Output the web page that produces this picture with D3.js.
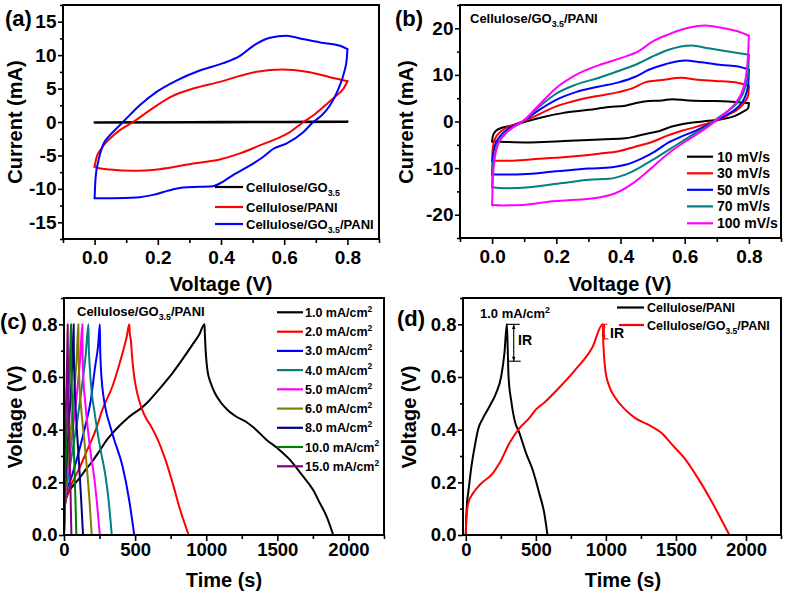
<!DOCTYPE html>
<html><head><meta charset="utf-8">
<script src="https://cdnjs.cloudflare.com/ajax/libs/d3/7.8.5/d3.min.js"></script>
<style>
body{margin:0;background:#fff}
svg{display:block}
text{font-family:"Liberation Sans",Arial,sans-serif;font-weight:bold;fill:#000}
</style>
</head><body>
<svg id="c" width="789" height="596"></svg>
<script>
// ---------------- DATA ----------------
// Panel (a): CV at fixed scan rate, [Voltage V, Current mA]
const cvA_GO = [[0,-0.06],[0.2,-0.02],[0.4,0.02],[0.6,0.05],[0.8,0.07],[0.799,0.0],[0.6,-0.04],[0.4,-0.06],[0.2,-0.08],[0,-0.06]];
const cvA_PANI = [[0,-6.7],[0.005,-5.5],[0.021,-4.0],[0.048,-2.5],[0.079,-1.25],[0.122,0],[0.174,1.74],[0.238,3.7],[0.312,5.0],[0.396,6.0],[0.46,6.9],[0.513,7.5],[0.597,7.85],[0.671,7.5],[0.745,6.7],[0.8,6.1],
  [0.788,5.0],[0.766,4.0],[0.735,2.7],[0.698,1.2],[0.661,0],[0.618,-1.5],[0.576,-2.5],[0.523,-3.5],[0.46,-4.7],[0.396,-5.6],[0.312,-6.2],[0.206,-7.05],[0.122,-7.3],[0.048,-7.1],[0.005,-6.8],[0,-6.7]];
const cvA_GOPANI = [[0,-11.4],[0.003,-8.4],[0.011,-6.0],[0.026,-3.5],[0.048,-2.0],[0.074,-0.75],[0.1,0.5],[0.143,2.5],[0.196,4.5],[0.259,6.2],[0.333,7.7],[0.407,8.8],[0.46,9.9],[0.502,11.4],[0.555,12.6],[0.608,12.9],[0.65,12.5],[0.714,11.9],[0.777,11.4],[0.8,10.9],
  [0.798,9.4],[0.79,7.5],[0.772,5.0],[0.745,2.5],[0.719,1.0],[0.692,0],[0.661,-1.5],[0.608,-3.2],[0.566,-4.0],[0.534,-5.2],[0.492,-6.5],[0.439,-7.9],[0.396,-9.2],[0.375,-9.6],[0.333,-9.7],[0.28,-9.8],[0.238,-10.2],[0.185,-10.9],[0.132,-11.3],[0.058,-11.4],[0,-11.4]];

// Panel (b): CV at different scan rates
const cvB_10 = [[0,-4.3],[0.002,-3.2],[0.012,-2.0],[0.033,-1.3],[0.064,-0.86],[0.105,0],[0.157,0.93],[0.219,1.8],[0.302,2.5],[0.364,3.1],[0.415,3.4],[0.457,4.1],[0.488,4.4],[0.529,4.5],[0.56,4.8],[0.612,4.5],[0.674,4.4],[0.736,4.3],[0.777,4.1],[0.8,3.9],
  [0.798,2.9],[0.782,2.1],[0.757,1.2],[0.715,0.5],[0.674,0.14],[0.633,-0.14],[0.591,-0.57],[0.56,-1.07],[0.519,-2.1],[0.488,-2.5],[0.446,-3.2],[0.415,-3.6],[0.353,-3.8],[0.281,-4.0],[0.198,-4.3],[0.116,-4.5],[0.043,-4.4],[0,-4.3]];
const cvB_30 = [[0,-8.4],[0.002,-5.7],[0.01,-3.6],[0.028,-2.1],[0.054,-1.07],[0.095,0],[0.147,1.57],[0.198,3.2],[0.25,4.3],[0.322,5.4],[0.394,6.3],[0.436,7.1],[0.477,8.4],[0.529,8.9],[0.591,9.4],[0.633,9.0],[0.695,8.7],[0.757,8.4],[0.8,7.6],
  [0.798,5.7],[0.788,4.3],[0.767,2.7],[0.736,1.43],[0.705,0.36],[0.674,-0.36],[0.633,-1.2],[0.591,-2.0],[0.54,-3.2],[0.498,-4.4],[0.446,-5.4],[0.394,-6.4],[0.333,-6.9],[0.25,-7.5],[0.147,-8.0],[0.064,-8.4],[0,-8.4]];
const cvB_50 = [[0,-11.4],[0.002,-7.9],[0.01,-5.0],[0.028,-2.9],[0.054,-1.4],[0.095,0],[0.147,2.5],[0.198,4.6],[0.261,6.3],[0.333,7.5],[0.394,8.4],[0.446,9.6],[0.488,11.1],[0.54,12.3],[0.601,13.1],[0.653,12.7],[0.715,12.1],[0.767,11.8],[0.8,11.1],
  [0.798,7.9],[0.786,5.0],[0.767,3.2],[0.736,1.64],[0.705,0.5],[0.674,-0.7],[0.633,-2.0],[0.591,-3.2],[0.55,-4.5],[0.508,-6.4],[0.467,-7.9],[0.415,-9.3],[0.374,-9.8],[0.302,-10.1],[0.198,-10.7],[0.095,-11.3],[0,-11.4]];
const cvB_70 = [[0,-14.1],[0.002,-10],[0.01,-6.4],[0.028,-3.6],[0.054,-1.8],[0.095,0],[0.147,3.2],[0.198,5.9],[0.261,7.9],[0.333,9.4],[0.405,11.1],[0.457,12.5],[0.498,13.9],[0.55,15.4],[0.622,16.3],[0.674,15.7],[0.736,15],[0.8,14.3],
  [0.798,10.7],[0.786,6.8],[0.767,4.3],[0.736,2.3],[0.705,0.86],[0.674,-0.86],[0.633,-2.5],[0.591,-4.3],[0.55,-6.1],[0.508,-7.9],[0.467,-9.6],[0.415,-11.4],[0.364,-12.3],[0.302,-12.5],[0.219,-13.2],[0.116,-14.1],[0.043,-14.3],[0,-14.1]];
const cvB_100 = [[0,-17.9],[0.002,-12.9],[0.007,-8.6],[0.018,-5.0],[0.038,-2.9],[0.064,-1.3],[0.095,0],[0.147,3.6],[0.198,7.1],[0.261,10],[0.333,12.1],[0.405,13.7],[0.457,15.1],[0.498,17.1],[0.55,18.7],[0.612,20.1],[0.664,20.6],[0.715,20.1],[0.767,19.3],[0.8,18.4],
  [0.798,15],[0.793,10.7],[0.782,7.1],[0.762,4.3],[0.731,2.1],[0.705,0.7],[0.674,-1.07],[0.643,-2.5],[0.602,-4.3],[0.55,-6.8],[0.498,-9.9],[0.446,-12.9],[0.384,-15.4],[0.333,-16.3],[0.261,-16.8],[0.188,-17.1],[0.095,-17.9],[0.033,-18],[0,-17.9]];

// Panel (c): GCD at different current densities, [Time s, Voltage V]
const gcdC_1 = [[0,0],[2,0.06],[5,0.1],[12,0.13],[30,0.16],[59,0.184],[100,0.21],[153,0.248],[200,0.28],[247,0.317],[300,0.36],[341,0.387],[390,0.415],[435,0.438],[480,0.458],[529,0.476],[590,0.505],[647,0.54],[710,0.58],[764,0.616],[830,0.665],[900,0.72],[950,0.76],[988,0.8],
  [990,0.77],[994,0.72],[1000,0.67],[1010,0.62],[1030,0.58],[1060,0.54],[1100,0.505],[1150,0.475],[1210,0.45],[1280,0.43],[1350,0.4],[1423,0.362],[1500,0.33],[1588,0.286],[1670,0.23],[1752,0.171],[1800,0.12],[1847,0.07],[1893,0]];
const gcdC_2 = [[0,0],[3,0.1],[12,0.13],[30,0.165],[59,0.2],[105,0.25],[153,0.31],[224,0.4],[270,0.476],[341,0.565],[411,0.69],[440,0.75],[459,0.8],
  [462,0.77],[470,0.74],[480,0.67],[494,0.6],[510,0.55],[529,0.51],[550,0.475],[576,0.444],[610,0.415],[659,0.362],[713,0.286],[764,0.197],[816,0.097],[877,0]];
const gcdC_3 = [[0,0],[3,0.1],[15,0.16],[47,0.21],[101,0.31],[148,0.41],[188,0.51],[219,0.64],[240,0.72],[252,0.8],
  [254,0.72],[259,0.64],[270,0.56],[282,0.51],[300,0.46],[318,0.425],[353,0.362],[412,0.26],[459,0.13],[494,0]];
const gcdC_4 = [[0,0],[4,0.1],[25,0.2],[60,0.32],[95,0.44],[125,0.56],[152,0.68],[172,0.8],
  [174,0.72],[181,0.64],[195,0.54],[212,0.476],[242,0.37],[262,0.31],[290,0.23],[312,0.14],[336,0]];
const gcdC_5 = [[0,0],[3,0.1],[18,0.2],[45,0.32],[70,0.44],[95,0.56],[115,0.68],[129,0.8],
  [130,0.72],[136,0.6],[150,0.5],[172,0.38],[190,0.3],[212,0.22],[232,0.12],[252,0]];
const gcdC_6 = [[0,0],[3,0.1],[15,0.2],[35,0.32],[55,0.44],[75,0.56],[90,0.68],[101,0.8],
  [102,0.72],[107,0.6],[118,0.5],[141,0.37],[160,0.26],[178,0.14],[195,0]];
const gcdC_8 = [[0,0],[3,0.12],[12,0.22],[25,0.35],[40,0.47],[52,0.58],[62,0.7],[68,0.8],
  [69,0.72],[73,0.6],[80,0.5],[94,0.37],[106,0.27],[120,0.14],[134,0]];
const gcdC_10 = [[0,0],[3,0.12],[10,0.25],[20,0.4],[30,0.52],[40,0.65],[46,0.74],[49,0.8],
  [50,0.72],[53,0.6],[58,0.5],[65,0.4],[72,0.28],[80,0.14],[87,0]];
const gcdC_15 = [[0,0],[2,0.15],[6,0.3],[12,0.45],[18,0.58],[23,0.7],[26,0.8],
  [27,0.7],[30,0.55],[34,0.42],[40,0.3],[46,0.16],[52,0]];

// Panel (d): GCD comparison at 1.0 mA/cm2
const gcdD_PANI = [[0,0],[2,0.05],[5,0.083],[10,0.13],[17,0.159],[40,0.26],[64,0.337],[87,0.4],[123,0.444],[170,0.489],[217,0.54],[253,0.603],[276,0.692],[293,0.8],
  [298,0.73],[305,0.603],[323,0.514],[347,0.438],[383,0.387],[430,0.311],[477,0.248],[524,0.159],[560,0.083],[583,0]];
const gcdD_GOPANI = [[0,0],[2,0.04],[5,0.07],[17,0.121],[52,0.159],[99,0.19],[194,0.235],[241,0.273],[312,0.349],[383,0.406],[453,0.444],[500,0.476],[571,0.508],[666,0.559],[784,0.629],[902,0.711],[978,0.8],
  [980,0.756],[987,0.679],[997,0.622],[1020,0.571],[1067,0.521],[1138,0.476],[1209,0.444],[1303,0.419],[1398,0.387],[1469,0.345],[1563,0.29],[1658,0.215],[1752,0.13],[1823,0.06],[1882,0]];
// IR drop annotations: [time, V top, V bottom]
const irPANI = [342, 0.8, 0.66];
const irGOPANI = [989, 0.8, 0.745];

// labels
const legendA = ["Cellulose/GO_{3.5}", "Cellulose/PANI", "Cellulose/GO_{3.5}/PANI"];
const legendB = ["10 mV/s", "30 mV/s", "50 mV/s", "70 mV/s", "100 mV/s"];
const legendC = ["1.0 mA/cm^{2}","2.0 mA/cm^{2}","3.0 mA/cm^{2}","4.0 mA/cm^{2}","5.0 mA/cm^{2}","6.0 mA/cm^{2}","8.0 mA/cm^{2}","10.0 mA/cm^{2}","15.0 mA/cm^{2}"];
const legendD = ["Cellulose/PANI", "Cellulose/GO_{3.5}/PANI"];
const ticksCV_X = [0, 0.2, 0.4, 0.6, 0.8];
const ticksA_Y = [-15, -10, -5, 0, 5, 10, 15];
const ticksB_Y = [-20, -10, 0, 10, 20];
const ticksGCD_X = [0, 500, 1000, 1500, 2000];
const ticksGCD_Y = [0, 0.2, 0.4, 0.6, 0.8];

// ---------------- DRAWING ----------------
const svg = d3.select("#c");
const FONT = '"Liberation Sans", Arial, sans-serif';

function rich(textSel, str, size) {
  const parts = str.split(/(_\{[^}]*\}|\^\{[^}]*\})/).filter(s => s.length);
  let shift = 0;
  parts.forEach(p => {
    const ts = textSel.append("tspan");
    if (p.startsWith("_{")) {
      ts.text(p.slice(2, -1)).attr("font-size", size * 0.68).attr("dy", size * 0.32 - shift);
      shift = size * 0.32;
    } else if (p.startsWith("^{")) {
      ts.text(p.slice(2, -1)).attr("font-size", size * 0.68).attr("dy", -size * 0.42 - shift);
      shift = -size * 0.42;
    } else {
      ts.text(p);
      if (shift !== 0) { ts.attr("dy", -shift); shift = 0; }
    }
  });
}

function addText(x, y, str, size, opts = {}) {
  const t = svg.append("text").attr("x", x).attr("y", y)
    .attr("font-size", size).attr("font-family", FONT).attr("font-weight", opts.weight || "bold")
    .attr("fill", opts.fill || "#000");
  if (opts.anchor) t.attr("text-anchor", opts.anchor);
  if (opts.rotate) t.attr("transform", `rotate(-90,${x},${y})`);
  rich(t, str, size);
  return t;
}

function panel(cfg) {
  const x = d3.scaleLinear().domain(cfg.xd).range([cfg.l, cfg.r]);
  const y = d3.scaleLinear().domain(cfg.yd).range([cfg.b, cfg.t]);
  const g = svg.append("g");
  const styleAxis = s => {
    s.select(".domain").remove();
    s.selectAll("line").attr("stroke", "#000").attr("stroke-width", 1.6);
    s.selectAll("text").attr("font-size", cfg.tickSize).attr("font-family", FONT)
      .attr("font-weight", "bold").attr("fill", "#000");
  };
  g.append("g").attr("transform", `translate(0,${cfg.b})`)
    .call(d3.axisBottom(x).tickValues(cfg.xMinor).tickSize(4).tickFormat("")).call(styleAxis);
  g.append("g").attr("transform", `translate(0,${cfg.b})`)
    .call(d3.axisBottom(x).tickValues(cfg.xMajor).tickSize(6).tickPadding(cfg.xPad).tickFormat(cfg.xf)).call(styleAxis);
  g.append("g").attr("transform", `translate(${cfg.l},0)`)
    .call(d3.axisLeft(y).tickValues(cfg.yMinor).tickSize(3).tickFormat("")).call(styleAxis);
  g.append("g").attr("transform", `translate(${cfg.l},0)`)
    .call(d3.axisLeft(y).tickValues(cfg.yMajor).tickSize(5).tickPadding(1.5).tickFormat(cfg.yf)).call(styleAxis);
  return {x, y, g};
}

function drawSeries(p, data, color, curve) {
  const line = d3.line().x(d => p.x(d[0])).y(d => p.y(d[1])).curve(curve);
  p.g.append("path").attr("d", line(data)).attr("fill", "none")
    .attr("stroke", color).attr("stroke-width", 2).attr("stroke-linejoin", "round").attr("stroke-linecap", "round");
}

// CV loop: forward sweep and reverse sweep drawn as two smooth branches
function drawLoop(p, data, color) {
  let k = 0;
  data.forEach((d, i) => { if (d[0] > data[k][0]) k = i; });
  const up = data.slice(0, k + 1);
  const low = data.slice(k).reverse();
  drawSeries(p, up, color, d3.curveMonotoneX);
  drawSeries(p, low, color, d3.curveMonotoneX);
}

function frame(cfg) {
  svg.append("rect").attr("x", cfg.l).attr("y", cfg.t).attr("width", cfg.r - cfg.l).attr("height", cfg.b - cfg.t)
    .attr("fill", "none").attr("stroke", "#000").attr("stroke-width", 2);
}

function legendLine(x1, x2, yc, color) {
  svg.append("line").attr("x1", x1).attr("x2", x2).attr("y1", yc).attr("y2", yc)
    .attr("stroke", color).attr("stroke-width", 2.2);
}

const gcdCurve = d3.curveMonotoneX;
const f1 = d3.format(".1f");

// ---- Panel (a)
const cfgA = {l:63, r:379, t:5, b:239, xd:[-0.1,0.9], yd:[-17.5,17.5], tickSize:19, xPad:6,
  xMajor:ticksCV_X, xMinor:[-0.1,0.1,0.3,0.5,0.7,0.9], yMajor:ticksA_Y, yMinor:[-17.5,-12.5,-7.5,-2.5,2.5,7.5,12.5,17.5],
  xf:f1, yf:d => String(d)};
const pA = panel(cfgA);
const colorsA = ["#000000", "#ff0000", "#0000ff"];
[cvA_GO, cvA_PANI, cvA_GOPANI].forEach((d, i) => drawLoop(pA, d, colorsA[i]));
frame(cfgA);
[187, 207, 224].forEach((yc, i) => {
  legendLine(215, 243, yc, colorsA[i]);
  addText(246, yc + 4.5, legendA[i], 13);
});
addText(221, 291, "Voltage (V)", 20, {anchor:"middle"});
addText(22, 122, "Current (mA)", 20, {anchor:"middle", rotate:true});
addText(5, 26, "(a)", 22);

// ---- Panel (b)
const cfgB = {l:460, r:781, t:5, b:238, xd:[-0.1,0.9], yd:[-25,25], tickSize:19, xPad:6,
  xMajor:ticksCV_X, xMinor:[-0.1,0.1,0.3,0.5,0.7,0.9], yMajor:ticksB_Y, yMinor:[-25,-15,-5,5,15,25],
  xf:f1, yf:d => String(d)};
const pB = panel(cfgB);
const colorsB = ["#000000", "#ff0000", "#0000ff", "#008080", "#ff00ff"];
[cvB_10, cvB_30, cvB_50, cvB_70, cvB_100].forEach((d, i) => drawLoop(pB, d, colorsB[i]));
frame(cfgB);
[156.7, 173.3, 189.8, 206.4, 223.3].forEach((yc, i) => {
  legendLine(687, 713, yc, colorsB[i]);
  addText(717, yc + 5, legendB[i], 14);
});
addText(470, 22.5, "Cellulose/GO_{3.5}/PANI", 13);
addText(620, 291, "Voltage (V)", 20, {anchor:"middle"});
addText(413, 122, "Current (mA)", 20, {anchor:"middle", rotate:true});
addText(395, 26, "(b)", 22);

// ---- Panel (c)
const cfgC = {l:64, r:384, t:298, b:535, xd:[0,2250], yd:[0,0.9], tickSize:18.5, xPad:2,
  xMajor:ticksGCD_X, xMinor:[250,750,1250,1750,2250], yMajor:ticksGCD_Y, yMinor:[0.1,0.3,0.5,0.7,0.9],
  xf:d => String(d), yf:f1};
const pC = panel(cfgC);
const colorsC = ["#000000","#ff0000","#0000ff","#008080","#ff00ff","#808000","#000080","#008000","#800080"];
const seriesC = [gcdC_1, gcdC_2, gcdC_3, gcdC_4, gcdC_5, gcdC_6, gcdC_8, gcdC_10, gcdC_15];
seriesC.forEach((d, i) => drawSeries(pC, d, colorsC[i], gcdCurve));
frame(cfgC);
[312.3, 331.7, 350.9, 370.1, 389.3, 408.6, 427.8, 447.0, 466.3].forEach((yc, i) => {
  legendLine(277, 303, yc, colorsC[i]);
  addText(305, yc + 4.5, legendC[i], 12.5);
});
addText(77, 316, "Cellulose/GO_{3.5}/PANI", 13);
addText(224, 587, "Time (s)", 20, {anchor:"middle"});
addText(21.5, 417, "Voltage (V)", 20, {anchor:"middle", rotate:true});
addText(0, 329, "(c)", 22);

// ---- Panel (d)
const cfgD = {l:463, r:781, t:298, b:535, xd:[-20,2250], yd:[0,0.9], tickSize:18.5, xPad:2,
  xMajor:ticksGCD_X, xMinor:[250,750,1250,1750,2250], yMajor:ticksGCD_Y, yMinor:[0.1,0.3,0.5,0.7,0.9],
  xf:d => String(d), yf:f1};
const pD = panel(cfgD);
drawSeries(pD, gcdD_PANI, "#000000", gcdCurve);
drawSeries(pD, gcdD_GOPANI, "#ff0000", gcdCurve);
// IR annotations
function irMark(ir, color, barL, barR, arrow) {
  const [t, v0, v1] = ir;
  const X = pD.x, Y = pD.y;
  const g = pD.g.append("g").attr("stroke", color).attr("stroke-width", 1.1).attr("fill", color);
  g.append("line").attr("x1", X(t)).attr("x2", X(t)).attr("y1", Y(v0)).attr("y2", Y(v1));
  g.append("line").attr("x1", X(t) - barL).attr("x2", X(t) + barR).attr("y1", Y(v0)).attr("y2", Y(v0));
  g.append("line").attr("x1", X(t) - barL + 2).attr("x2", X(t) + barR + 1).attr("y1", Y(v1)).attr("y2", Y(v1));
  const a = arrow;
  g.append("path").attr("stroke", "none")
    .attr("d", `M${X(t)},${Y(v0)} l${-a/2},${a*1.3} l${a},0 Z M${X(t)},${Y(v1)} l${-a/2},${-a*1.3} l${a},0 Z`);
}
irMark(irPANI, "#000", 7, 6, 3.5);
irMark(irGOPANI, "#ff0000", 2.5, 3, 2.5);
frame(cfgD);
addText(518, 345, "IR", 14, {weight:"normal"});
addText(610, 338, "IR", 14, {weight:"normal", fill:"#ff0000"});
legendLine(617, 644, 307.5, "#000000");
legendLine(619, 644, 325, "#ff0000");
addText(647, 312, legendD[0], 12.5);
addText(647, 329.5, legendD[1], 12.5);
addText(480, 318, "1.0 mA/cm^{2}", 13);
addText(623, 587, "Time (s)", 20, {anchor:"middle"});
addText(416, 417, "Voltage (V)", 20, {anchor:"middle", rotate:true});
addText(397, 326, "(d)", 22);
</script>
</body></html>
